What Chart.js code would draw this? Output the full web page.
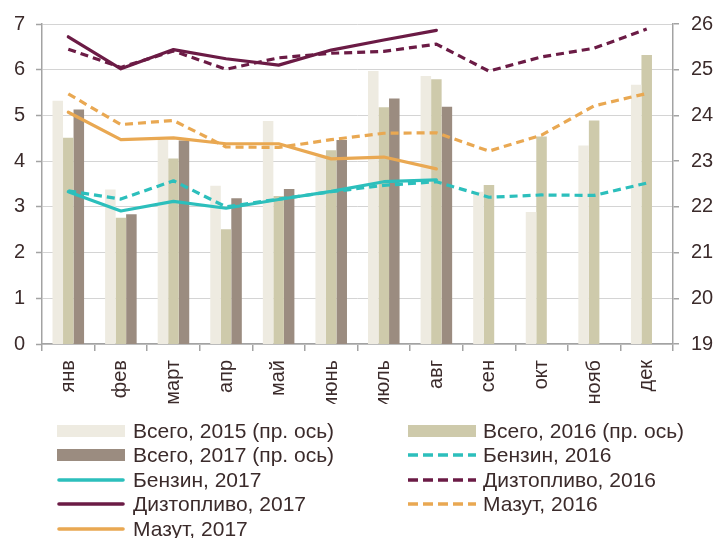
<!DOCTYPE html>
<html>
<head>
<meta charset="utf-8">
<script src="https://cdn.jsdelivr.net/npm/chart.js@4.4.1/dist/chart.umd.min.js"></script>
<style>
  html, body { margin: 0; padding: 0; background: #ffffff; }
  #wrap { position: relative; width: 715px; height: 538px; overflow: hidden; }
  #chart { position: absolute; left: 0; top: 0; }
  .lg { position: absolute; height: 24px; line-height: 24px; font-family: "Liberation Sans", Arial, sans-serif;
        font-size: 21px; color: #3b2b2b; white-space: nowrap; }
  .sw { position: absolute; }
</style>
</head>
<body>
<div id="wrap">
  <canvas id="chart" width="715" height="538"></canvas>
  <div id="legend"></div>
</div>
<script>
// ---- data ----
const months = ['янв','фев','март','апр','май','июнь','июль','авг','сен','окт','нояб','дек'];

// bars, right axis (19..26)
const total2015 = [24.32, 22.38, 23.46, 22.46, 23.88, 23.10, 24.97, 24.86, 22.33, 21.89, 23.34, 24.67];
const total2016 = [23.51, 21.76, 23.06, 21.51, 22.24, 23.24, 24.18, 24.79, 22.48, 23.54, 23.89, 25.32];
const total2017 = [24.13, 21.84, 23.45, 22.19, 22.39, 23.46, 24.37, 24.19, null, null, null, null];

// lines, left axis (0..7)
const petrol2016 = [3.35, 3.17, 3.57, 3.00, 3.17, 3.33, 3.47, 3.55, 3.21, 3.26, 3.25, 3.52];
const petrol2017 = [3.33, 2.91, 3.12, 2.97, 3.16, 3.34, 3.55, 3.59, null, null, null, null];
const diesel2016 = [6.45, 6.05, 6.41, 6.01, 6.26, 6.36, 6.40, 6.56, 5.97, 6.28, 6.47, 6.89];
const diesel2017 = [6.72, 6.02, 6.44, 6.24, 6.10, 6.43, 6.65, 6.86, null, null, null, null];
const fuel2016   = [5.47, 4.80, 4.89, 4.31, 4.30, 4.47, 4.61, 4.62, 4.22, 4.57, 5.21, 5.48];
const fuel2017   = [5.07, 4.47, 4.51, 4.38, 4.38, 4.05, 4.09, 3.83, null, null, null, null];

const leftTicks = [0, 1, 2, 3, 4, 5, 6, 7];
const rightTicks = [19, 20, 21, 22, 23, 24, 25, 26];

const labels = {
  t15: 'Всего, 2015 (пр. ось)',
  t16: 'Всего, 2016 (пр. ось)',
  t17: 'Всего, 2017 (пр. ось)',
  p16: 'Бензин, 2016',
  p17: 'Бензин, 2017',
  d16: 'Дизтопливо, 2016',
  d17: 'Дизтопливо, 2017',
  f16: 'Мазут, 2016',
  f17: 'Мазут, 2017'
};

// ---- styles ----
const C = {
  b15: '#eeebe1', b16: '#cecaab', b17: '#9b8c80',
  cyan: '#2cbfbc', maroon: '#6b1b45', orange: '#e9a852',
  text: '#3b2b2b', axis: '#a3a3a3', grid: '#d4d4d4'
};
const DASH = [8, 5];
const FONT = "'Liberation Sans', Arial, sans-serif";

function lineDs(label, data, color, dashed) {
  return {
    type: 'line', label, data, yAxisID: 'y',
    borderColor: color, backgroundColor: color, borderWidth: 3.2,
    borderDash: dashed ? DASH : [], pointRadius: 0, pointHoverRadius: 0,
    tension: 0, spanGaps: false, order: 1, fill: false,
    borderJoinStyle: 'round', borderCapStyle: dashed ? 'butt' : 'round'
  };
}
function barDs(label, data, color) {
  return {
    type: 'bar', label, data, yAxisID: 'y2', backgroundColor: color,
    borderWidth: 0, categoryPercentage: 0.6, barPercentage: 1.0, order: 10
  };
}

const datasets = [
  barDs(labels.t15, total2015, C.b15),
  barDs(labels.t16, total2016, C.b16),
  barDs(labels.t17, total2017, C.b17),
  lineDs(labels.p16, petrol2016, C.cyan, true),
  lineDs(labels.p17, petrol2017, C.cyan, false),
  lineDs(labels.d16, diesel2016, C.maroon, true),
  lineDs(labels.d17, diesel2017, C.maroon, false),
  lineDs(labels.f16, fuel2016, C.orange, true),
  lineDs(labels.f17, fuel2017, C.orange, false)
];

const chart = new Chart(document.getElementById('chart'), {
  type: 'bar',
  data: { labels: months, datasets },
  options: {
    responsive: false,
    animation: false,
    events: [],
    layout: { padding: { top: 24, bottom: 134, left: 0, right: 0 } },
    plugins: { legend: { display: false }, tooltip: { enabled: false }, title: { display: false } },
    scales: {
      x: {
        type: 'category', offset: true,
        grid: { offset: true, drawOnChartArea: false, drawTicks: true, tickLength: 7, color: C.axis, lineWidth: 1.5 },
        border: { display: true, color: C.axis, width: 1.5 },
        ticks: { autoSkip: false, minRotation: 90, maxRotation: 90, padding: 9, color: C.text,
                 font: { family: FONT, size: 20 } },
        afterFit: (s) => { s.height = 60; }
      },
      y: {
        position: 'left', min: 0, max: 7, beginAtZero: false,
        afterBuildTicks: (s) => { s.ticks = leftTicks.map(v => ({ value: v })); },
        grid: { drawOnChartArea: true, color: C.grid, lineWidth: 1, borderDash: [3, 3],
                drawTicks: true, tickLength: 6, tickColor: C.axis, tickBorderDash: [], tickWidth: 1.5 },
        border: { display: true, color: C.axis, width: 1.5, dash: [] },
        ticks: { padding: 11, color: C.text, font: { family: FONT, size: 20 } },
        afterFit: (s) => { s.width = 42; }
      },
      y2: {
        position: 'right', min: 19, max: 26, beginAtZero: false,
        afterBuildTicks: (s) => { s.ticks = rightTicks.map(v => ({ value: v })); },
        grid: { drawOnChartArea: false, drawTicks: true, tickLength: 6, color: C.axis, lineWidth: 1.5 },
        border: { display: true, color: C.axis, width: 1.5 },
        ticks: { padding: 12, color: C.text, font: { family: FONT, size: 20 } },
        afterFit: (s) => { s.width = 42; }
      }
    }
  }
});

// ---- HTML legend (two columns, built from the chart datasets) ----
const legendEl = document.getElementById('legend');
const colSwatchX = [57, 408];
const colTextX = [133, 483];
const swatchW = 68;
const rowY0 = 431, rowStep = 24.4;
chart.data.datasets.forEach((ds, i) => {
  const col = i % 2, row = Math.floor(i / 2);
  const cy = rowY0 + row * rowStep;
  const svgNS = 'http://www.w3.org/2000/svg';
  const svg = document.createElementNS(svgNS, 'svg');
  svg.setAttribute('width', swatchW);
  svg.setAttribute('height', 14);
  svg.setAttribute('class', 'sw');
  svg.style.left = colSwatchX[col] + 'px';
  svg.style.top = (cy - 7) + 'px';
  if (ds.type === 'bar') {
    const r = document.createElementNS(svgNS, 'rect');
    r.setAttribute('x', 0); r.setAttribute('y', 1);
    r.setAttribute('width', swatchW); r.setAttribute('height', 12);
    r.setAttribute('fill', ds.backgroundColor);
    svg.appendChild(r);
  } else {
    const l = document.createElementNS(svgNS, 'line');
    l.setAttribute('x1', ds.borderDash.length ? 0 : 2); l.setAttribute('x2', ds.borderDash.length ? swatchW : swatchW - 2);
    l.setAttribute('y1', 7); l.setAttribute('y2', 7);
    l.setAttribute('stroke', ds.borderColor);
    l.setAttribute('stroke-width', 3.6);
    if (ds.borderDash.length) l.setAttribute('stroke-dasharray', '10 5');
    else l.setAttribute('stroke-linecap', 'round');
    svg.appendChild(l);
  }
  legendEl.appendChild(svg);
  const t = document.createElement('div');
  t.className = 'lg';
  t.textContent = ds.label;
  t.style.left = colTextX[col] + 'px';
  t.style.top = (cy - 12) + 'px';
  legendEl.appendChild(t);
});
</script>
</body>
</html>
